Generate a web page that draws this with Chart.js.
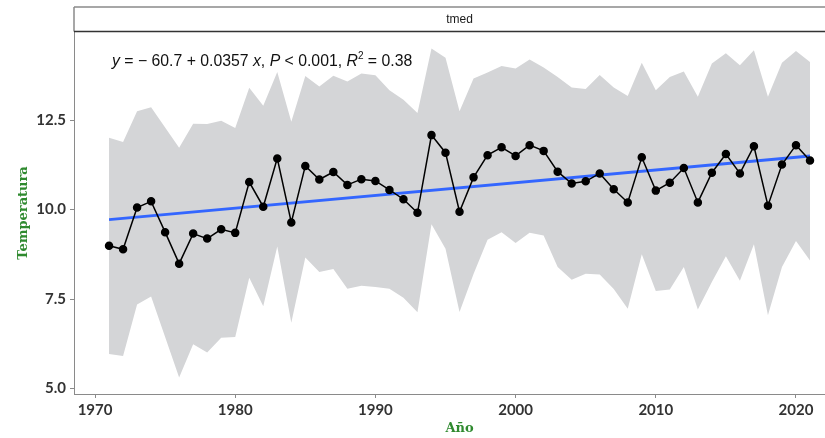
<!DOCTYPE html>
<html>
<head>
<meta charset="utf-8">
<script src="https://cdn.jsdelivr.net/npm/chart.js@4.4.1/dist/chart.umd.min.js"></script>
<style>
  html, body { margin: 0; padding: 0; background: #fff; overflow: hidden; }
  #wrap { width: 825px; height: 438px; }
</style>
</head>
<body>
<div id="wrap"><canvas id="chart" width="825" height="438"></canvas></div>
<script>
// datos
const years = [1971, 1972, 1973, 1974, 1975, 1976, 1977, 1978, 1979, 1980,
  1981, 1982, 1983, 1984, 1985, 1986, 1987, 1988, 1989, 1990,
  1991, 1992, 1993, 1994, 1995, 1996, 1997, 1998, 1999, 2000,
  2001, 2002, 2003, 2004, 2005, 2006, 2007, 2008, 2009, 2010,
  2011, 2012, 2013, 2014, 2015, 2016, 2017, 2018, 2019, 2020, 2021];

const tmed = [8.99, 8.89, 10.06, 10.23, 9.37, 8.49, 9.33, 9.19, 9.45, 9.35,
  10.77, 10.08, 11.43, 9.64, 11.22, 10.84, 11.05, 10.69, 10.85, 10.80,
  10.55, 10.29, 9.91, 12.08, 11.59, 9.94, 10.90, 11.52, 11.74, 11.50,
  11.80, 11.64, 11.06, 10.73, 10.79, 11.01, 10.57, 10.20, 11.46, 10.53,
  10.75, 11.16, 10.20, 11.03, 11.55, 11.01, 11.77, 10.11, 11.26, 11.80, 11.37];

const tmax = [12.01, 11.89, 12.75, 12.86, 12.29, 11.73, 12.40, 12.39, 12.48, 12.28,
  13.40, 12.90, 13.84, 12.45, 13.73, 13.44, 13.74, 13.58, 13.80, 13.75,
  13.33, 13.07, 12.70, 14.50, 14.24, 12.75, 13.66, 13.83, 14.01, 13.94,
  14.19, 13.97, 13.70, 13.41, 13.37, 13.76, 13.41, 13.17, 14.10, 13.33,
  13.70, 13.86, 13.15, 14.08, 14.37, 14.03, 14.45, 13.15, 14.10, 14.43, 14.12];

const tmin = [5.97, 5.91, 7.35, 7.57, 6.44, 5.31, 6.24, 6.01, 6.42, 6.44,
  8.10, 7.30, 8.97, 6.84, 8.66, 8.26, 8.34, 7.79, 7.87, 7.84,
  7.79, 7.54, 7.13, 9.59, 8.91, 7.14, 8.20, 9.16, 9.37, 9.07,
  9.35, 9.28, 8.40, 8.04, 8.21, 8.19, 7.78, 7.23, 8.75, 7.73,
  7.77, 8.40, 7.21, 7.98, 8.70, 8.01, 9.03, 7.05, 8.40, 9.12, 8.58];

// recta de regresion (extremos)
const trendYears = [1971, 2021];
const trendVals = [9.72, 11.50];

const xTicks = [1970, 1980, 1990, 2000, 2010, 2020];
const yTicks = [5.0, 7.5, 10.0, 12.5];

const toPts = (xs, ys) => xs.map((x, i) => ({ x: x, y: ys[i] }));

const GREEN = '#2f8a2f';

// strip "tmed", ecuacion y titulo del eje x
const extras = {
  id: 'extras',
  afterDraw(chart) {
    const ctx = chart.ctx;
    const area = chart.chartArea;
    const xs = chart.scales.x;
    const midX = xs.getPixelForValue(1996);

    ctx.save();
    // strip
    ctx.fillStyle = '#fff';
    ctx.fillRect(area.left, 7, 825 - area.left, 24.5);
    ctx.strokeStyle = '#8a8a8a';
    ctx.lineWidth = 1.5;
    ctx.beginPath();
    ctx.moveTo(area.left, 7);
    ctx.lineTo(826, 7);
    ctx.moveTo(area.left, 7);
    ctx.lineTo(area.left, 31.5);
    ctx.stroke();
    ctx.strokeStyle = '#333';
    ctx.beginPath();
    ctx.moveTo(area.left, 31.5);
    ctx.lineTo(826, 31.5);
    ctx.stroke();

    ctx.fillStyle = '#1a1a1a';
    ctx.font = '12px "Liberation Sans", Arial, sans-serif';
    ctx.textAlign = 'center';
    ctx.textBaseline = 'middle';
    ctx.fillText('tmed', midX, 19.5);

    // ecuacion
    const parts = [
      ['y', true, false], [' = \u2212 60.7 + 0.0357 ', false, false], ['x', true, false],
      [', ', false, false], ['P', true, false], [' < 0.001, ', false, false],
      ['R', true, false], ['2', false, true], [' = 0.38', false, false]
    ];
    let px = 112;
    const base = 66;
    ctx.textAlign = 'left';
    ctx.textBaseline = 'alphabetic';
    ctx.fillStyle = '#111';
    parts.forEach(([txt, ital, sup]) => {
      const size = sup ? 10 : 15.8;
      ctx.font = (ital ? 'italic ' : '') + size + 'px "Liberation Sans", Arial, sans-serif';
      ctx.fillText(txt, px, sup ? base - 7 : base);
      px += ctx.measureText(txt).width;
    });

    // titulo eje x
    ctx.fillStyle = GREEN;
    ctx.font = 'bold 13px "DejaVu Serif", serif';
    ctx.textAlign = 'center';
    ctx.textBaseline = 'middle';
    ctx.fillText('A\u00f1o', midX, 429);
    ctx.restore();
  }
};

new Chart(document.getElementById('chart'), {
  type: 'line',
  data: {
    datasets: [
      {
        label: 'min',
        data: toPts(years, tmin),
        borderWidth: 0,
        pointRadius: 0,
        fill: false,
        order: 4
      },
      {
        label: 'max',
        data: toPts(years, tmax),
        borderWidth: 0,
        pointRadius: 0,
        backgroundColor: '#d4d5d7',
        fill: '-1',
        order: 3
      },
      {
        label: 'tendencia',
        data: toPts(trendYears, trendVals),
        borderColor: '#3366ff',
        borderWidth: 3,
        pointRadius: 0,
        fill: false,
        order: 2
      },
      {
        label: 'tmed',
        data: toPts(years, tmed),
        borderColor: '#000',
        borderWidth: 1.5,
        backgroundColor: '#000',
        pointBackgroundColor: '#000',
        pointBorderColor: '#000',
        pointRadius: 3.5,
        fill: false,
        order: 1
      }
    ]
  },
  options: {
    responsive: false,
    animation: false,
    layout: { autoPadding: false, padding: { top: 32, left: 0, right: 0, bottom: 0 } },
    plugins: {
      legend: { display: false },
      tooltip: { enabled: false }
    },
    elements: { line: { tension: 0 } },
    scales: {
      x: {
        type: 'linear',
        min: 1968.5,
        max: 2022.07,
        afterFit: s => { s.height = 44; s.paddingLeft = 0; s.paddingRight = 0; },
        afterBuildTicks: s => { s.ticks = xTicks.map(v => ({ value: v })); },
        ticks: {
          callback: v => String(v),
          color: '#333',
          font: { family: 'Lato', size: 15, weight: 'bold' },
          padding: 3,
          maxRotation: 0
        },
        grid: { drawOnChartArea: false, drawTicks: true, tickLength: 4, color: '#8a8a8a' },
        border: { display: true, color: '#8a8a8a', width: 1 }
      },
      y: {
        type: 'linear',
        min: 4.85,
        max: 14.96,
        afterFit: s => { s.width = 74; s.paddingTop = 0; s.paddingBottom = 0; },
        afterBuildTicks: s => { s.ticks = yTicks.map(v => ({ value: v })); },
        ticks: {
          callback: v => Number(v).toFixed(1),
          color: '#333',
          font: { family: 'Lato', size: 15, weight: 'bold' },
          padding: 4
        },
        grid: { drawOnChartArea: false, drawTicks: true, tickLength: 4, color: '#8a8a8a' },
        border: { display: true, color: '#8a8a8a', width: 1 },
        title: {
          display: true,
          text: 'Temperatura',
          color: GREEN,
          font: { family: 'DejaVu Serif', size: 13, weight: 'bold' },
          padding: { top: 16, bottom: 0 }
        }
      }
    }
  },
  plugins: [extras]
});
</script>
</body>
</html>
